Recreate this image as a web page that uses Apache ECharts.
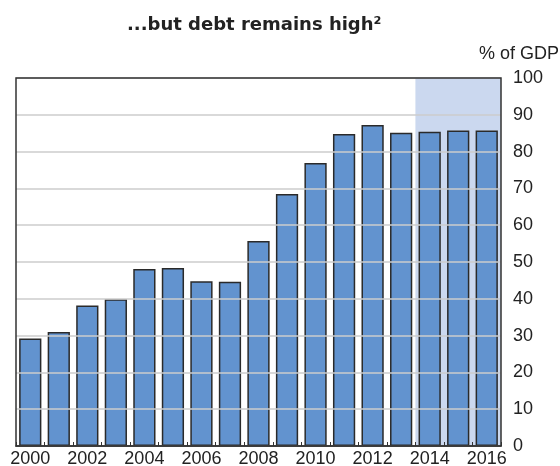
<!DOCTYPE html>
<html>
<head>
<meta charset="utf-8">
<script src="https://cdn.jsdelivr.net/npm/echarts@6/dist/echarts.min.js"></script>
<style>html,body{margin:0;padding:0;background:#fff}#c{width:560px;height:466px}</style>
</head>
<body>
<div id="c"></div>
<script>
const years = ['2000','2001','2002','2003','2004','2005','2006','2007','2008','2009','2010','2011','2012','2013','2014','2015','2016'];
const debt = [29.2, 31.0, 38.2, 39.9, 48.1, 48.4, 44.8, 44.6, 55.7, 68.5, 76.9, 84.8, 87.2, 85.1, 85.4, 85.7, 85.7];
const forecastStart = '2014';
const forecastEnd = '2016';
const titleText = '...but debt remains high²';
const unitText = '% of GDP';

const FONT = 'Liberation Sans, Arial, sans-serif';
const chart = echarts.init(document.getElementById('c'), null, {renderer: 'canvas'});
chart.setOption({
  animation: false,
  backgroundColor: '#fff',
  title: [
    {text: titleText, left: 127, top: 16, padding: 0, textStyle: {fontFamily: 'DejaVu Sans', fontSize: 18, fontWeight: 'bold', color: '#222'}},
    {text: unitText, right: 1, top: 45, padding: 0, textStyle: {fontFamily: FONT, fontSize: 18, fontWeight: 'normal', color: '#222'}}
  ],
  grid: {left: 16, right: 59, top: 78, bottom: 20, outerBoundsMode: 'none', containLabel: false, show: true, borderColor: '#333', borderWidth: 1.5, backgroundColor: 'transparent', z: 10},
  xAxis: {
    type: 'category', data: years,
    axisLine: {show: true, lineStyle: {color: '#333', width: 1.5}},
    axisTick: {show: true, inside: true, length: 4, interval: 0, lineStyle: {color: '#333', width: 1}},
    axisLabel: {interval: 1, margin: 4, fontFamily: FONT, fontSize: 18, color: '#222'},
    z: 10
  },
  yAxis: {
    type: 'value', position: 'right', min: 0, max: 100, interval: 10,
    axisLine: {show: false}, axisTick: {show: false},
    axisLabel: {margin: 12, fontFamily: FONT, fontSize: 18, color: '#222'},
    splitLine: {show: true, lineStyle: {color: '#cccccc', width: 1.5}},
    z: 3
  },
  series: [{
    type: 'bar', data: debt, barCategoryGap: '22%',
    itemStyle: {color: '#6293cf', borderColor: '#2a2a2a', borderWidth: 1.5},
    markArea: {
      silent: true,
      itemStyle: {color: '#cbd8ef'},
      data: [[{xAxis: forecastStart, yAxis: 0}, {xAxis: forecastEnd, yAxis: 100}]]
    },
    z: 2
  }]
});
</script>
</body>
</html>
